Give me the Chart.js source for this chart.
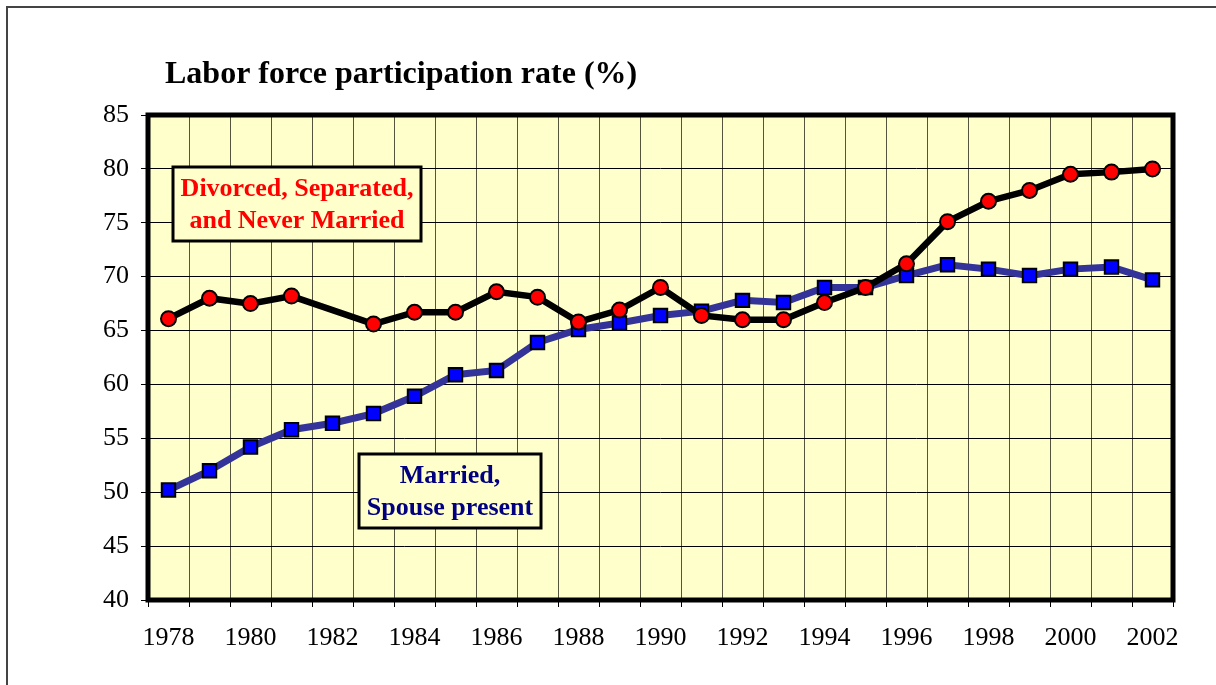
<!DOCTYPE html>
<html>
<head>
<meta charset="utf-8">
<script src="https://cdn.jsdelivr.net/npm/chart.js@4.4.0/dist/chart.umd.min.js"></script>
<style>
	html, body { margin: 0; padding: 0; background: white; }
	#chart-wrap { width: 1216px; height: 685px; position: relative; }
</style>
</head>
<body>
<div id="chart-wrap"><canvas id="lfp-canvas"></canvas></div>
<script>
const years = ['1978','1979','1980','1981','1982','1983','1984','1985','1986','1987','1988','1989','1990',
	'1991','1992','1993','1994','1995','1996','1997','1998','1999','2000','2001','2002'];

// divorced, separated and never married (no value for 1982)
const singleRates = [66.1, 68.0, 67.5, 68.2, null, 65.6, 66.7, 66.7, 68.6, 68.1, 65.8, 66.9, 69.0,
	66.4, 66.0, 66.0, 67.6, 69.0, 71.2, 75.1, 77.0, 78.0, 79.5, 79.7, 80.0];

// married, spouse present
const marriedRates = [50.2, 52.0, 54.2, 55.8, 56.4, 57.3, 58.9, 60.9, 61.3, 63.9, 65.1, 65.7, 66.4,
	66.8, 67.8, 67.6, 69.0, 69.0, 70.1, 71.1, 70.7, 70.1, 70.7, 70.9, 69.7];

const yTicks = { min: 40, max: 85, step: 5 };
const chartTitle = 'Labor force participation rate (%)';
const singleLabel = ['Divorced, Separated,', 'and Never Married'];
const marriedLabel = ['Married,', 'Spouse present'];

const serif = '"Liberation Serif", "Times New Roman", serif';

// plot background, plot frame, outer frame, title and the two series boxes
const decorPlugin = {
	id: 'decor',
	beforeDraw(chart) {
		var a = chart.chartArea;
		var ctx = chart.ctx;
		ctx.save();
		ctx.fillStyle = '#FFFFCC';
		ctx.fillRect(a.left, a.top, a.right - a.left, a.bottom - a.top);
		ctx.restore();
	},
	beforeDatasetsDraw(chart) {
		var a = chart.chartArea;
		var ctx = chart.ctx;
		ctx.save();
		ctx.strokeStyle = '#000';
		ctx.lineWidth = 5;
		ctx.strokeRect(a.left, a.top, a.right - a.left, a.bottom - a.top);
		ctx.restore();
	},
	afterDraw(chart) {
		var a = chart.chartArea;
		var ctx = chart.ctx;
		ctx.save();

		// outer frame (top and left only)
		ctx.strokeStyle = '#444';
		ctx.lineWidth = 2;
		ctx.beginPath();
		ctx.moveTo(7, 685);
		ctx.lineTo(7, 7);
		ctx.lineTo(1216, 7);
		ctx.stroke();

		// title
		ctx.fillStyle = '#000';
		ctx.font = 'bold 32px ' + serif;
		ctx.textAlign = 'left';
		ctx.textBaseline = 'middle';
		ctx.fillText(chartTitle, a.left + 17, a.top - 40);

		drawBox(ctx, a.left + 25, a.top + 52, 248, 74, singleLabel, '#FF0000');
		drawBox(ctx, a.left + 211, a.top + 339, 182, 74, marriedLabel, '#000080');
		ctx.restore();
	}
};

function drawBox(ctx, x, y, w, h, lines, colour) {
	ctx.fillStyle = '#FFFFCC';
	ctx.fillRect(x, y, w, h);
	ctx.strokeStyle = '#000';
	ctx.lineWidth = 3;
	ctx.strokeRect(x, y, w, h);
	ctx.fillStyle = colour;
	ctx.font = 'bold 26px ' + serif;
	ctx.textAlign = 'center';
	ctx.textBaseline = 'middle';
	var lineH = 32;
	var startY = y + h / 2 - (lines.length - 1) * lineH / 2 + 1;
	for (var i = 0; i < lines.length; i++) {
		ctx.fillText(lines[i], x + w / 2, startY + i * lineH);
	}
}

const ctx = document.getElementById('lfp-canvas').getContext('2d');
const chart = new Chart(ctx, {
	type: 'line',
	plugins: [decorPlugin],
	data: {
		labels: years,
		datasets: [
			{
				label: 'Divorced, Separated, and Never Married',
				data: singleRates,
				borderColor: '#000',
				borderWidth: 6.5,
				spanGaps: true,
				segment: {
					// the line across the missing year is drawn thin
					borderWidth: c => (c.p1DataIndex - c.p0DataIndex > 1) ? 3 : 6.5
				},
				pointStyle: 'circle',
				pointRadius: 7.5,
				pointBorderWidth: 2,
				pointBackgroundColor: '#FF0000',
				pointBorderColor: '#000',
				tension: 0
			},
			{
				label: 'Married, Spouse present',
				data: marriedRates,
				borderColor: '#333399',
				borderWidth: 7,
				pointStyle: 'rect',
				pointRadius: 9.5,
				pointBorderWidth: 2,
				pointBackgroundColor: '#0000FF',
				pointBorderColor: '#000',
				tension: 0
			}
		]
	},
	options: {
		responsive: true,
		maintainAspectRatio: false,
		animation: false,
		layout: {
			padding: { left: 0, right: 43, top: 115, bottom: 0 }
		},
		plugins: {
			legend: { display: false },
			title: { display: false },
			tooltip: { enabled: false }
		},
		scales: {
			x: {
				type: 'category',
				offset: true,
				grid: {
					offset: true,
					color: '#55553f',
					lineWidth: 1,
					tickLength: 7,
					tickColor: '#000'
				},
				border: { display: false },
				ticks: {
					autoSkip: false,
					maxRotation: 0,
					color: '#000',
					padding: 16,
					font: { family: serif, size: 26 },
					callback: function(value, index) {
						return index % 2 == 0 ? this.getLabelForValue(value) : '';
					}
				},
				afterFit: function(scale) { scale.height = 85; }
			},
			y: {
				min: yTicks.min,
				max: yTicks.max,
				grid: {
					color: '#000',
					lineWidth: 1,
					tickLength: 7
				},
				border: { display: false },
				ticks: {
					stepSize: yTicks.step,
					color: '#000',
					padding: 12,
					font: { family: serif, size: 26 }
				},
				afterFit: function(scale) { scale.width = 148; }
			}
		}
	}
});
</script>
</body>
</html>
